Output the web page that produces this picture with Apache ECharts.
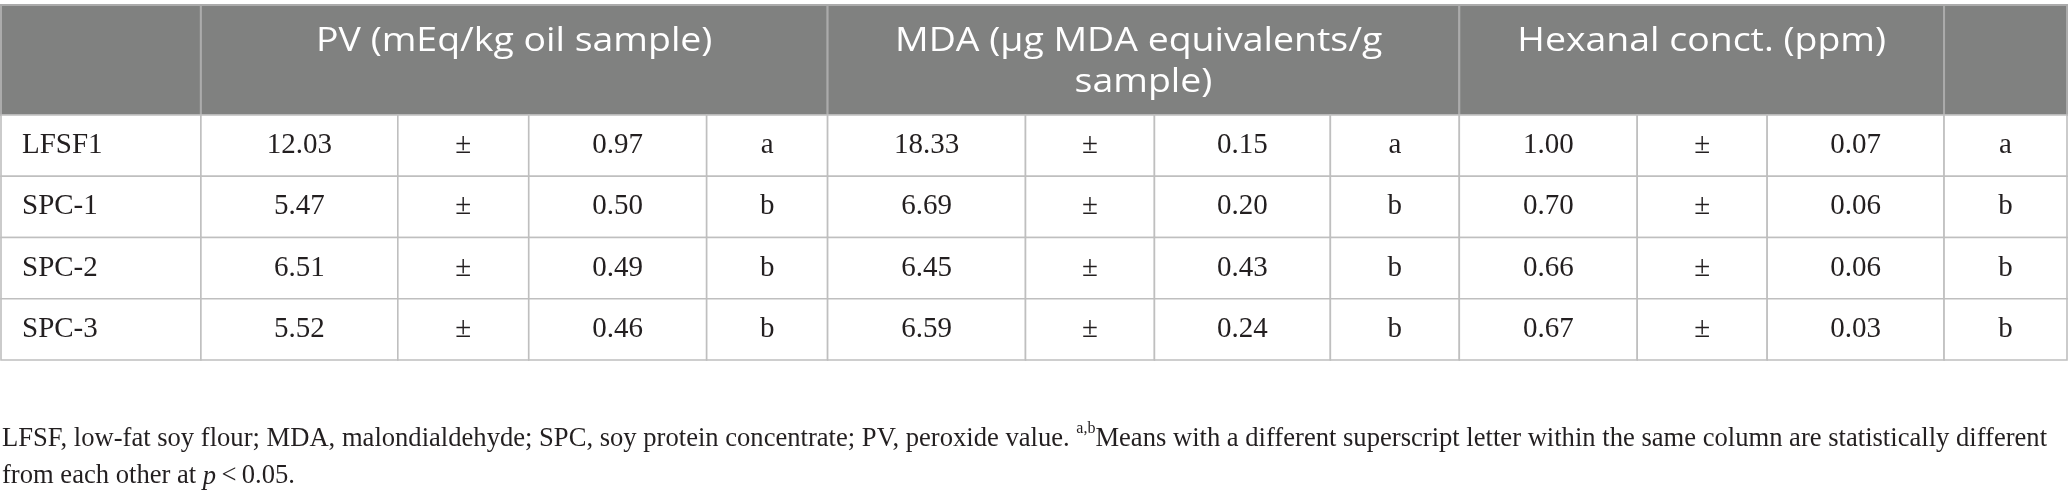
<!DOCTYPE html>
<html>
<head>
<meta charset="utf-8">
<script src="https://cdn.jsdelivr.net/npm/echarts@6/dist/echarts.min.js"></script>
<style>
  html, body { margin: 0; padding: 0; background: #fff; }
  #chart { width: 2068px; height: 500px; }
</style>
</head>
<body>
<div id="chart"></div>
<script>
// table data
var samples = ['LFSF1', 'SPC-1', 'SPC-2', 'SPC-3'];
var pvMean = [12.03, 5.47, 6.51, 5.52];
var pvSd = [0.97, 0.50, 0.49, 0.46];
var pvGroup = ['a', 'b', 'b', 'b'];
var mdaMean = [18.33, 6.69, 6.45, 6.59];
var mdaSd = [0.15, 0.20, 0.43, 0.24];
var mdaGroup = ['a', 'b', 'b', 'b'];
var hexMean = [1.00, 0.70, 0.66, 0.67];
var hexSd = [0.07, 0.06, 0.06, 0.03];
var hexGroup = ['a', 'b', 'b', 'b'];
var headers = ['', 'PV (mEq/kg oil sample)', 'MDA (μg MDA equivalents/g sample)', 'Hexanal conct. (ppm)', ''];
var headerSpans = [1, 4, 4, 3, 1];

// layout (table units)
var colWidths = [200, 197, 131, 178, 121, 198, 129, 176, 129, 178, 130, 177, 123];
var headerH = 110;
var rowH = 61.25;
var headScaleX = 1.17;

var colEdges = [0];
colWidths.forEach(function (w) { colEdges.push(colEdges[colEdges.length - 1] + w); });
var tableW = colEdges[colEdges.length - 1];
var tableH = headerH + rowH * samples.length;

var cells = [];
var c = 0;
headers.forEach(function (h, i) {
  cells.push({ x0: colEdges[c], x1: colEdges[c + headerSpans[i]], y0: 0, y1: headerH, text: h, kind: 'head' });
  c += headerSpans[i];
});
samples.forEach(function (s, r) {
  var row = [s,
    pvMean[r].toFixed(2), '±', pvSd[r].toFixed(2), pvGroup[r],
    mdaMean[r].toFixed(2), '±', mdaSd[r].toFixed(2), mdaGroup[r],
    hexMean[r].toFixed(2), '±', hexSd[r].toFixed(2), hexGroup[r]];
  row.forEach(function (t, k) {
    cells.push({
      x0: colEdges[k], x1: colEdges[k + 1],
      y0: headerH + r * rowH, y1: headerH + (r + 1) * rowH,
      text: t, kind: k === 0 ? 'first' : 'body'
    });
  });
});

var chart = echarts.init(document.getElementById('chart'), null, { renderer: 'canvas' });

function renderCell(params, api) {
  var cell = cells[params.dataIndex];
  var p0 = api.coord([cell.x0, cell.y0]);
  var p1 = api.coord([cell.x1, cell.y1]);
  var w = p1[0] - p0[0], h = p1[1] - p0[1];
  var children = [];
  if (cell.kind === 'head') {
    children.push({
      type: 'rect',
      shape: { x: p0[0], y: p0[1], width: w, height: h },
      style: { fill: '#808180', stroke: '#ababab', lineWidth: 2 }
    });
    if (cell.text) {
      children.push({
        type: 'text',
        x: p0[0] + w / 2,
        y: p0[1] + 16,
        scaleX: headScaleX,
        style: {
          text: cell.text,
          fill: '#ffffff',
          font: '32px "Open Sans"',
          align: 'center',
          verticalAlign: 'top',
          lineHeight: 41,
          width: (w - 60) / headScaleX,
          overflow: 'break'
        }
      });
    }
  } else {
    children.push({
      type: 'rect',
      shape: { x: p0[0], y: p0[1], width: w, height: h },
      style: { fill: '#ffffff', stroke: '#bfbfbf', lineWidth: 1.6 }
    });
    children.push({
      type: 'text',
      x: cell.kind === 'first' ? p0[0] + 21 : p0[0] + w / 2,
      y: p0[1] + h / 2,
      style: {
        text: cell.text,
        fill: '#231f20',
        font: '29px "Liberation Serif"',
        align: cell.kind === 'first' ? 'left' : 'center',
        verticalAlign: 'middle'
      }
    });
  }
  return { type: 'group', children: children };
}

var option = {
  animation: false,
  grid: { left: 1, top: 5, width: 2066, height: 355 },
  xAxis: { type: 'value', min: 0, max: tableW, show: false },
  yAxis: { type: 'value', min: 0, max: tableH, inverse: true, show: false },
  graphic: [{
    type: 'text',
    left: 2,
    top: 421,
    style: {
      rich: {
        n: { font: '26.6px "Liberation Serif"', fill: '#231f20', lineHeight: 37 },
        i: { font: 'italic 26.6px "Liberation Serif"', fill: '#231f20', lineHeight: 37 },
        sup: { font: '16px "Liberation Serif"', fill: '#231f20', lineHeight: 22, verticalAlign: 'top' }
      },
      text: '{n|LFSF, low-fat soy flour; MDA, malondialdehyde; SPC, soy protein concentrate; PV, peroxide value. }{sup|a,b}{n|Means with a different superscript letter within the same column are statistically different}\n' +
        '{n|from each other at }{i|p}{n|\u2009<\u20090.05.}'
    }
  }],
  series: [{
    type: 'custom',
    coordinateSystem: 'cartesian2d',
    renderItem: renderCell,
    data: cells.map(function (cell) { return [cell.x0, cell.y0]; }),
    silent: true
  }]
};
chart.setOption(option);
</script>
</body>
</html>
